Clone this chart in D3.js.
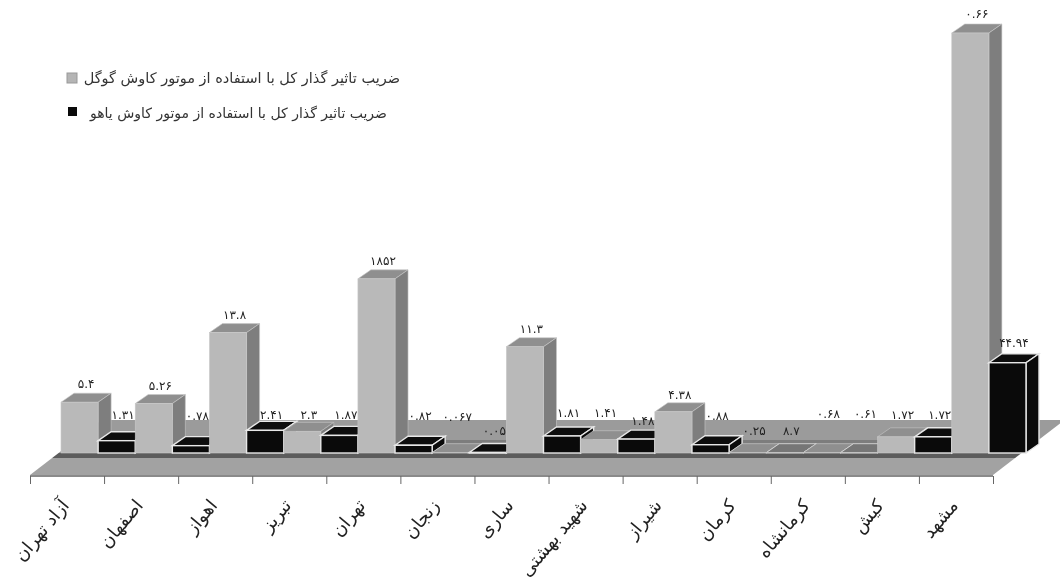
<!DOCTYPE html>
<html>
<head>
<meta charset="utf-8">
<script src="https://cdn.jsdelivr.net/npm/d3@7"></script>
<style>
  body { margin: 0; background: #fff; }
  svg { filter: blur(0.4px); }
  text { font-family: "DejaVu Sans", sans-serif; fill: #222; }
</style>
</head>
<body>
<div id="chart"></div>
<script>
let cities = ["آزاد تهران", "اصفهان", "اهواز", "تبریز", "تهران", "زنجان", "ساری", "شهید بهشتی", "شیراز", "کرمان", "کرمانشاه", "کیش", "مشهد"];
let seriesNames = ["ضریب تاثیر گذار کل با استفاده از موتور کاوش گوگل", "ضریب تاثیر گذار کل با استفاده از موتور کاوش یاهو"];

// bar heights
let googleValues = [5.4, 5.26, 12.8, 2.3, 18.52, 0.03, 11.3, 1.41, 4.38, 0.03, 0.03, 1.72, 44.66];
let yahooValues = [1.31, 0.78, 2.41, 1.87, 0.82, 0.05, 1.81, 1.48, 0.88, 0.03, 0.03, 1.72, 9.6];

// printed labels, these do not always agree with the bar heights
let googleLabels = ["۵.۴", "۵.۲۶", "۱۳.۸", "۲.۳", "۱۸۵۲", "۰.۰۶۷", "۱۱.۳", "۱.۴۱", "۴.۳۸", "۰.۲۵", "۰.۶۸", "۱.۷۲", "۰.۶۶"];
let yahooLabels = ["۱.۳۱", "۰.۷۸", "۲.۴۱", "۱.۸۷", "۰.۸۲", "۰.۰۵", "۱.۸۱", "۱.۴۸", "۰.۸۸", "۸.۷", "۰.۶۱", "۱.۷۲", "۴۴.۹۴"];

let width = 1060;
let height = 585;
let baseY = 453;
let depth = { x: 13, y: 9 };

let svg = d3.select("#chart").append("svg")
    .attr("width", width)
    .attr("height", height);

let xScale = d3.scaleBand().domain(cities).range([61, 1026]);
let xInner = d3.scaleBand().domain([0, 1]).range([0, xScale.bandwidth()]);
let yScale = d3.scaleLinear().domain([0, 44.66]).range([baseY, 33]);
let tickScale = d3.scaleLinear().domain([0, cities.length]).range([30, 993]);

function floorBand(y1, y2, color){
    // the floor runs back at a slant, so each band shifts right as it goes up
    let left = function(y){ return 30 + (475 - y) * 1.3 };
    let right = function(y){ return 993 + (475 - y) * 1.3 };
    svg.append("polygon")
        .attr("points", [[left(y1), y1], [right(y1), y1], [right(y2), y2], [left(y2), y2]].join(" "))
        .style("fill", color);
}

function drawFloor(){
    floorBand(420, 440, "#9b9b9b");
    floorBand(440, 443, "#7d7d7d");
    floorBand(443, 453, "#8f8f8f");
    floorBand(453, 458, "#5c5c5c");
    floorBand(458, 475, "#a2a2a2");
    svg.append("rect").attr("x", 30).attr("y", 475).attr("width", 963).attr("height", 2)
        .style("fill", "#8a8a8a");
}

function drawBar(x, w, y, colors){
    let g = svg.append("g");
    g.append("polygon")
        .attr("points", [[x, y], [x + depth.x, y - depth.y], [x + w + depth.x, y - depth.y], [x + w, y]].join(" "))
        .style("fill", colors.top)
        .style("stroke", colors.edge)
        .style("stroke-width", colors.edgeWidth);
    g.append("polygon")
        .attr("points", [[x + w, y], [x + w + depth.x, y - depth.y], [x + w + depth.x, baseY - depth.y], [x + w, baseY]].join(" "))
        .style("fill", colors.side)
        .style("stroke", colors.edge)
        .style("stroke-width", colors.edgeWidth);
    g.append("rect")
        .attr("x", x)
        .attr("y", y)
        .attr("width", w)
        .attr("height", baseY - y)
        .style("fill", colors.front)
        .style("stroke", colors.edge)
        .style("stroke-width", colors.edgeWidth);
}

function drawBars(){
    let grey = { front: "#b9b9b9", top: "#8f8f8f", side: "#7e7e7e", edge: "#c8c8c8", edgeWidth: 0.6 };
    let black = { front: "#0a0a0a", top: "#0d0d0d", side: "#0a0a0a", edge: "#e8e8e8", edgeWidth: 1.4 };
    // kerman and kermanshah yahoo bars come out as flat grey in the original
    let flatBlack = { front: "#0a0a0a", top: "#767676", side: "#767676", edge: "#dddddd", edgeWidth: 0.8 };

    cities.forEach(function(city, i){
        let x = xScale(city);
        drawBar(x + xInner(0), xInner.bandwidth(), yScale(googleValues[i]), grey);
        let style = (i == 9 || i == 10) ? flatBlack : black;
        drawBar(x + xInner(1), xInner.bandwidth(), yScale(yahooValues[i]), style);
    });
}

// extra lift for the labels that sit well above their bars
let googleLift = [0, 0, 0, -2, 0, 18, 0, 9, -1, 4, 21, 4, 1];
let yahooLift = [8, 12, -3, 2, 11, 4, 5, 0, 11, 4, 21, 4, 2];

function drawLabels(){
    cities.forEach(function(city, i){
        [[0, googleValues, googleLabels, googleLift], [1, yahooValues, yahooLabels, yahooLift]].forEach(function(s){
            svg.append("text")
                .attr("x", xScale(city) + xInner(s[0]) + xInner.bandwidth() / 2 + depth.x / 2)
                .attr("y", yScale(s[1][i]) - depth.y - 5 - s[3][i])
                .attr("text-anchor", "middle")
                .style("font-size", "12px")
                .text(s[2][i]);
        });
    });
}

function drawAxis(){
    let axis = d3.axisBottom(tickScale)
        .tickValues(d3.range(cities.length + 1))
        .tickSize(8)
        .tickFormat("");
    let g = svg.append("g")
        .attr("transform", "translate(0,476)")
        .call(axis);
    g.select(".domain").remove();
    g.selectAll("line").style("stroke", "#666");

    svg.selectAll(".city")
        .data(cities)
        .enter()
        .append("text")
        .attr("class", "city")
        .attr("text-anchor", "end")
        .attr("transform", function(d, i){
            return "translate(" + [tickScale(i) + 40, 506] + ") rotate(-50)";
        })
        .style("font-size", "18px")
        .text(function(d){ return d });
}

function drawLegend(){
    let legend = svg.append("g");
    legend.append("rect").attr("x", 67).attr("y", 73).attr("width", 10).attr("height", 10)
        .style("fill", "#b5b5b5").style("stroke", "#999");
    legend.append("text").attr("x", 400).attr("y", 83)
        .attr("text-anchor", "end").style("font-size", "14.5px").style("fill", "#333").text(seriesNames[0]);
    legend.append("rect").attr("x", 68).attr("y", 107).attr("width", 9).attr("height", 9)
        .style("fill", "#0a0a0a");
    legend.append("text").attr("x", 387).attr("y", 118)
        .attr("text-anchor", "end").style("font-size", "14px").style("fill", "#333").text(seriesNames[1]);
}

drawFloor();
drawBars();
drawLabels();
drawAxis();
drawLegend();
</script>
</body>
</html>
